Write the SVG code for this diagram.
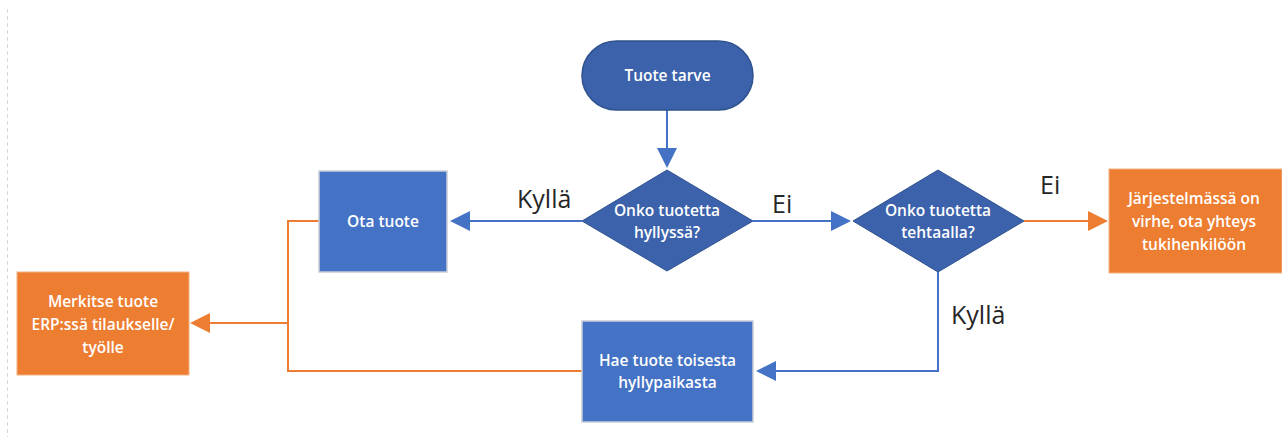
<svg xmlns="http://www.w3.org/2000/svg" width="1282" height="437" viewBox="0 0 1282 437">
  <style>
    .term { fill: #3C62AB; stroke: #2F528F; stroke-width: 1.5; }
    .dec { fill: #3C62AB; stroke: #2F528F; stroke-width: 1; }
    .proc { fill: #4472C4; stroke: #C9CED6; stroke-width: 1.5; }
    .alert { fill: #ED7D31; stroke: #F4B183; stroke-width: 1; }
    .nt { font-family: "Open Sans", "Liberation Sans", sans-serif; font-size: 15.5px; font-weight: 600; fill: #FFFFFF; text-anchor: middle; }
    .lbl { font-family: "Open Sans", "Liberation Sans", sans-serif; font-size: 25px; fill: #262626; }
    .cb { fill: none; stroke: #4472C4; stroke-width: 2; }
    .co { fill: none; stroke: #ED7D31; stroke-width: 2; }
  </style>
  <rect width="1282" height="437" fill="#FFFFFF"/>
  <line x1="7.5" y1="9" x2="7.5" y2="437" stroke="#D9D9D9" stroke-width="1" stroke-dasharray="4 3"/>

  <g id="connectors">
    <path class="cb" d="M667,110 V150"/>
    <path d="M657,148 L677,148 L667,168 Z" fill="#4472C4"/>
    <path class="cb" d="M582,221 H468"/>
    <path d="M470,211 L470,231 L450,221 Z" fill="#4472C4"/>
    <path class="cb" d="M753,221 H833"/>
    <path d="M831,211 L831,231 L851,221 Z" fill="#4472C4"/>
    <path class="cb" d="M938,272 V371 H774"/>
    <path d="M776,361 L776,381 L756,371 Z" fill="#4472C4"/>
    <path class="co" d="M1024,221 H1090"/>
    <path d="M1088,211 L1088,231 L1108,221 Z" fill="#ED7D31"/>
    <path class="co" d="M319,221 H288 V371 H582"/>
    <path class="co" d="M288,323 H208"/>
    <path d="M210,313 L210,333 L190,323 Z" fill="#ED7D31"/>
  </g>

  <g id="node-start">
    <rect class="term" x="582" y="41" width="171" height="69" rx="34.5" ry="34.5"/>
    <text class="nt" x="667.5" y="80.5">Tuote tarve</text>
  </g>

  <g id="node-shelf">
    <polygon class="dec" points="667,170 753,221 667,271 582,221"/>
    <text class="nt" x="667" y="216">Onko tuotetta</text>
    <text class="nt" x="667" y="238">hyllyssä?</text>
  </g>

  <g id="node-factory">
    <polygon class="dec" points="938,170 1024,221 938,272 853,221"/>
    <text class="nt" x="938" y="216">Onko tuotetta</text>
    <text class="nt" x="938" y="238">tehtaalla?</text>
  </g>

  <g id="node-take">
    <rect class="proc" x="319" y="171" width="128" height="101"/>
    <text class="nt" x="383" y="226.5">Ota tuote</text>
  </g>

  <g id="node-fetch">
    <rect class="proc" x="582" y="321" width="171" height="101"/>
    <text class="nt" x="667.5" y="366">Hae tuote toisesta</text>
    <text class="nt" x="667.5" y="388">hyllypaikasta</text>
  </g>

  <g id="node-error">
    <rect class="alert" x="1109" y="169" width="173" height="104"/>
    <text class="nt" x="1194" y="204">Järjestelmässä on</text>
    <text class="nt" x="1194" y="227">virhe, ota yhteys</text>
    <text class="nt" x="1194" y="250">tukihenkilöön</text>
  </g>

  <g id="node-mark">
    <rect class="alert" x="17" y="272" width="172" height="103"/>
    <text class="nt" x="103" y="307">Merkitse tuote</text>
    <text class="nt" x="103" y="330">ERP:ssä tilaukselle/</text>
    <text class="nt" x="103" y="353">työlle</text>
  </g>

  <g id="labels">
    <text class="lbl" x="517" y="208">Kyllä</text>
    <text class="lbl" x="772" y="213">Ei</text>
    <text class="lbl" x="1040" y="194">Ei</text>
    <text class="lbl" x="951" y="324">Kyllä</text>
  </g>
</svg>
